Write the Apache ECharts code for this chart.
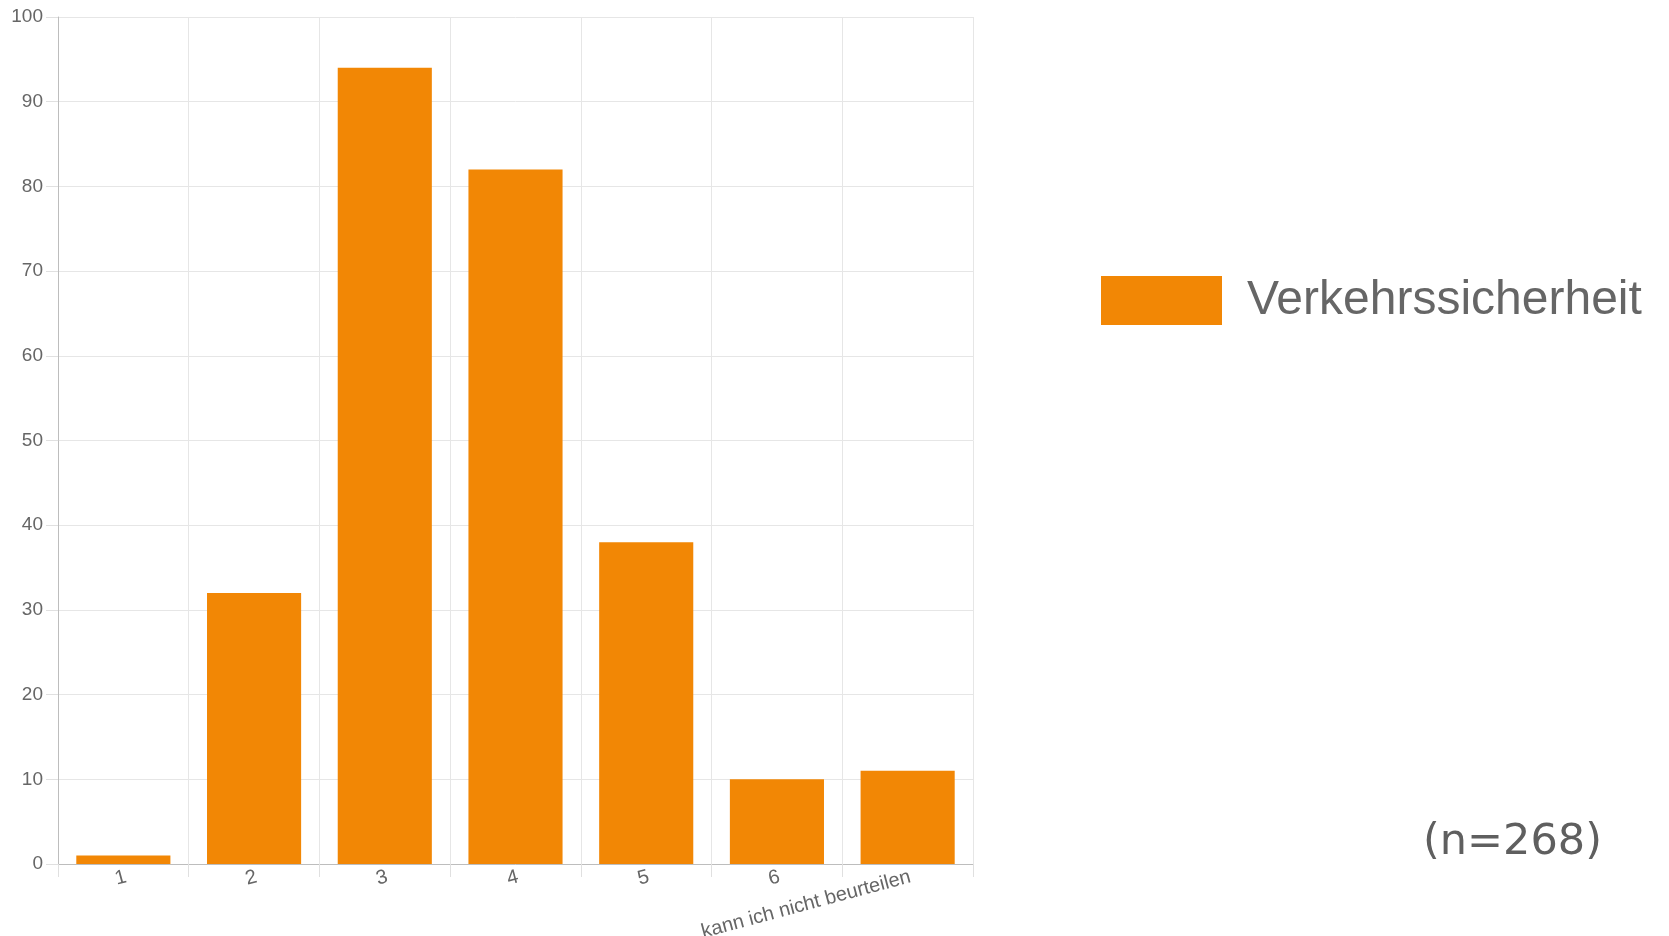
<!DOCTYPE html>
<html>
<head>
<meta charset="utf-8">
<script src="https://cdn.jsdelivr.net/npm/echarts@6/dist/echarts.min.js"></script>
<style>html,body{margin:0;padding:0;background:#fff}#c{width:1669px;height:936px}</style>
</head>
<body>
<div id="c"></div>
<script>
const categories = ['1', '2', '3', '4', '5', '6', 'kann ich nicht beurteilen'];
const values = [1, 32, 94, 82, 38, 10, 11];
const seriesName = 'Verkehrssicherheit';
const note = '(n=268)';

const chart = echarts.init(document.getElementById('c'));
const font = '"Liberation Sans", Arial, Helvetica, sans-serif';
chart.setOption({
  animation: false,
  backgroundColor: '#ffffff',
  grid: { left: 58, top: 17, width: 915, height: 847, containLabel: false, outerBoundsMode: 'none' },
  legend: {
    data: [seriesName],
    left: 1096, top: 271,
    itemWidth: 121, itemHeight: 49,
    icon: 'rect',
    textStyle: { fontFamily: font, fontSize: 48, color: '#666', padding: [0, 0, 0, 20] }
  },
  xAxis: {
    type: 'category',
    data: categories,
    axisLine: { lineStyle: { color: '#bdbdbd', width: 1 } },
    axisTick: { show: true, length: 13, lineStyle: { color: '#e0e0e0' } },
    splitLine: { show: true, lineStyle: { color: '#e6e6e6' } },
    axisLabel: { rotate: 15, margin: 3, verticalAlign: 'top', align: 'right', fontFamily: font, fontSize: 20, color: '#666', interval: 0 }
  },
  yAxis: {
    type: 'value',
    min: 0, max: 100, interval: 10,
    axisLine: { show: true, lineStyle: { color: '#bdbdbd', width: 1 } },
    axisTick: { show: true, length: 12, lineStyle: { color: '#e0e0e0' } },
    splitLine: { show: true, lineStyle: { color: '#e6e6e6' } },
    axisLabel: { margin: 15, fontFamily: font, fontSize: 19, color: '#666' }
  },
  series: [{
    name: seriesName,
    type: 'bar',
    data: values,
    barCategoryGap: '28%',
    itemStyle: { color: '#f28705' }
  }],
  graphic: [{
    type: 'text',
    left: 1423, top: 821,
    style: { text: note, fontFamily: '"DejaVu Sans", Verdana, sans-serif', fontSize: 43, fill: '#5f5f5f' }
  }]
});
</script>
</body>
</html>
